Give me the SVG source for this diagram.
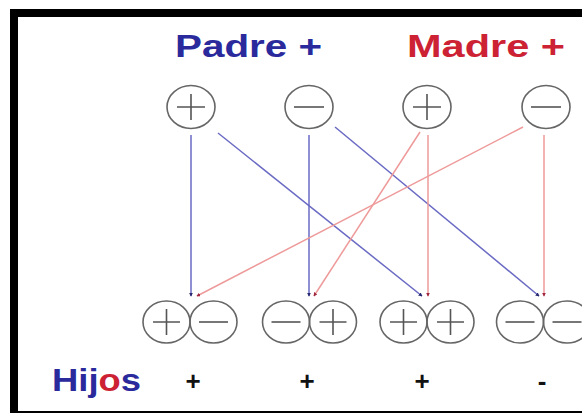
<svg xmlns="http://www.w3.org/2000/svg" width="582" height="414" viewBox="0 0 582 414">
<style>
.c{fill:none;stroke:#666;stroke-width:1.6}
.s{stroke:#555;stroke-width:1.6;fill:none}
.b{stroke:#6a6ac4;stroke-width:1.5;fill:none}
.r{stroke:#ee9a9a;stroke-width:1.5;fill:none}
.t{font-family:"Liberation Sans",Arial,sans-serif;font-weight:bold}
</style>
<defs>
<marker id="ab" viewBox="0 0 6 6" refX="5" refY="3" markerWidth="4" markerHeight="4" orient="auto" markerUnits="userSpaceOnUse"><path d="M0,0 L6,3 L0,6 z" fill="#2a2a70"/></marker>
<marker id="ar" viewBox="0 0 6 6" refX="5" refY="3" markerWidth="4" markerHeight="4" orient="auto" markerUnits="userSpaceOnUse"><path d="M0,0 L6,3 L0,6 z" fill="#a02840"/></marker>
</defs>
<rect x="0" y="0" width="582" height="414" fill="#fff"/>
<rect x="10" y="9" width="572" height="404" fill="#000"/>
<rect x="18" y="17" width="564" height="394" fill="#fff"/>

<text class="t" x="175" y="57" font-size="31" fill="#2a2a9c" textLength="147" lengthAdjust="spacingAndGlyphs">Padre +</text>
<text class="t" x="407" y="57" font-size="31" fill="#cc2233" textLength="158" lengthAdjust="spacingAndGlyphs">Madre +</text>

<g id="connectors">
<line class="b" x1="191" y1="135" x2="191" y2="296" marker-end="url(#ab)"/>
<line class="b" x1="218" y1="133" x2="422" y2="296" marker-end="url(#ab)"/>
<line class="b" x1="309" y1="135" x2="309" y2="296" marker-end="url(#ab)"/>
<line class="b" x1="335" y1="127" x2="539" y2="296" marker-end="url(#ab)"/>
<line class="r" x1="420" y1="132" x2="314" y2="296" marker-end="url(#ar)"/>
<line class="r" x1="428" y1="135" x2="428" y2="296" marker-end="url(#ar)"/>
<line class="r" x1="523" y1="127" x2="197" y2="296" marker-end="url(#ar)"/>
<line class="r" x1="544" y1="135" x2="544" y2="296" marker-end="url(#ar)"/>
</g>

<g id="padre-plus"><ellipse class="c" cx="191" cy="107" rx="24" ry="21.5"/><path class="s" d="M177,107h28M191,94v26"/></g>
<g id="padre-minus"><ellipse class="c" cx="309" cy="107" rx="24" ry="21.5"/><path class="s" d="M294,107h30"/></g>
<g id="madre-plus"><ellipse class="c" cx="427" cy="107" rx="24" ry="21.5"/><path class="s" d="M413,107h28M427,94v26"/></g>
<g id="madre-minus"><ellipse class="c" cx="546" cy="107" rx="24" ry="21.5"/><path class="s" d="M531,107h30"/></g>

<g id="hijo-1"><ellipse class="c" cx="166.5" cy="322" rx="23.5" ry="21"/><path class="s" d="M153,322h27M166.5,309v26"/><ellipse class="c" cx="213.5" cy="322" rx="23.5" ry="21"/><path class="s" d="M199,322h29"/></g>
<g id="hijo-2"><ellipse class="c" cx="286" cy="322" rx="23.5" ry="21"/><path class="s" d="M271.5,322h29"/><ellipse class="c" cx="333" cy="322" rx="23.5" ry="21"/><path class="s" d="M319.5,322h27M333,309v26"/></g>
<g id="hijo-3"><ellipse class="c" cx="403.5" cy="322" rx="23.5" ry="21"/><path class="s" d="M390,322h27M403.5,309v26"/><ellipse class="c" cx="450.5" cy="322" rx="23.5" ry="21"/><path class="s" d="M437,322h27M450.5,309v26"/></g>
<g id="hijo-4"><ellipse class="c" cx="520" cy="322" rx="23.5" ry="21"/><path class="s" d="M505.5,322h29"/><ellipse class="c" cx="567" cy="322" rx="23.5" ry="21"/><path class="s" d="M552.5,322h29"/></g>

<text class="t" x="52" y="391" font-size="31" textLength="89" lengthAdjust="spacingAndGlyphs"><tspan fill="#2a2a9c">Hij</tspan><tspan fill="#cc2233">o</tspan><tspan fill="#2a2a9c">s</tspan></text>
<g class="t" font-size="26" fill="#111" text-anchor="middle">
<text x="193" y="390">+</text>
<text x="307" y="390">+</text>
<text x="422" y="390">+</text>
<text x="542" y="390">-</text>
</g>
</svg>
